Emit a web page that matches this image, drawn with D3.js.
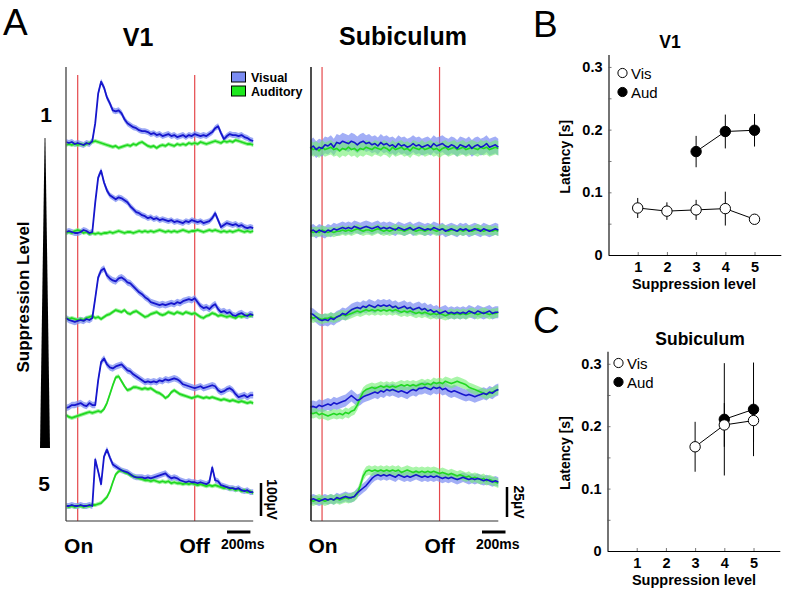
<!DOCTYPE html>
<html><head><meta charset="utf-8">
<script src="https://cdn.jsdelivr.net/npm/d3@7"></script>
<style>
body{margin:0;background:#fff}
svg{display:block}
text{font-family:"Liberation Sans",Arial,Helvetica,sans-serif}
</style>
</head><body>
<svg id="c" width="787" height="592"></svg>
<script>
// ---------- DATA ----------
// Traces sampled every DT seconds starting at T0 (stimulus On = 0 s, Off = 1 s)
const T0 = -0.1, DT = 0.025;
const suppressionLevels = [1, 2, 3, 4, 5];

// V1 LFP (µV, relative to pre-stimulus baseline), one array per suppression level
const v1Visual = [
  [3,0,3,-3,0,-3,-6,0,-3,6,60,150,186, 168,138,120,99,96,99,90,72,60,54,48,45,39, 36,36,33,27,30,24,27,21,24,27,21,24,18, 21,24,18,24,21,27,24,21,24,21,27,33,45, 51,30,12,21,27,24,24,21,24,18,15,9,6],
  [0,3,0,-3,-3,0,6,3,-3,0,90,165,186, 150,126,111,105,99,105,102,96,90,78,69,60,57, 51,48,42,45,39,42,36,39,36,33,36,30,33, 30,27,33,30,36,33,30,33,27,30,33,42,57, 36,15,21,27,24,21,24,18,21,15,12,15,12],
  [0,-6,-9,-12,-9,-6,-9,-3,-6,0,60,123,144, 150,129,120,114,111,120,123,117,108,105,96,87,78, 72,63,57,48,45,42,39,42,39,42,45,42,48, 45,51,54,57,54,60,48,36,30,33,27,36,42, 27,18,21,15,18,9,6,12,15,9,6,12,9],
  [6,9,15,15,18,21,15,12,21,15,15,90,145, 156,138,129,126,132,135,138,129,120,117,108,102,96, 90,84,87,84,87,84,90,87,93,90,93,96,93, 87,78,75,72,69,66,69,72,66,69,72,75,72, 60,54,57,63,66,60,48,39,42,45,39,45,45],
  [0,0,3,0,0,3,0,0,3,0,141,105,66, 150,171,147,126,120,114,108,105,102,96,90,87,87, 87,84,87,84,87,90,93,96,99,90,84,87,84, 78,75,72,75,72,72,69,72,69,66,72,117,78, 75,63,60,57,54,54,51,54,48,45,48,42,42]
];
const v1Auditory = [
  [-6,-3,-6,-3,-6,-3,-6,-3,0,3,6,3,0, -3,-6,-9,-12,-9,-15,-12,-9,-6,-9,-3,-6,0, 3,-3,-9,-12,-9,-15,-9,-6,-9,-3,-6,-9,-3, -6,-3,-6,0,-3,0,-3,3,0,-3,0,3,6, 3,0,6,3,6,3,9,6,3,0,-3,-3,-6],
  [-3,0,-3,3,6,3,-3,0,-6,-3,-6,-3,-6, -3,-3,0,-3,0,3,0,-3,0,0,-3,0,3, 0,3,0,3,0,3,6,3,0,3,0,3,0, 3,6,3,0,3,3,6,3,0,3,6,3,6, 3,0,3,0,3,0,3,6,3,0,3,0,3],
  [0,-3,0,-3,-6,-3,-6,0,3,6,0,3,-3, 3,9,12,18,24,21,18,24,15,12,18,21,15, 9,3,6,12,15,18,12,9,12,18,15,12,18, 15,12,18,15,12,15,9,3,0,6,9,15,12, 6,9,6,3,6,3,0,6,3,6,9,6,9],
  [-15,-21,-24,-21,-18,-15,-12,-9,-6,-9,-6,-3,-6, 3,21,48,75,99,102,87,72,60,63,69,69,66, 63,66,63,66,60,54,51,45,36,42,54,60,54, 48,45,42,39,36,39,42,39,36,39,36,39,36, 33,30,33,30,27,30,27,24,27,24,21,24,21],
  [0,-3,0,-3,0,0,-3,0,0,3,3,6,9, 18,27,45,72,96,105,108,102,99,93,90,87,84, 81,78,78,75,78,75,72,75,72,75,69,72,69, 69,66,69,66,69,66,63,66,63,60,63,60,63, 60,57,54,57,51,54,48,51,45,48,42,45,39]
];
const v1VisualSem = [9, 9, 10, 10, 9];
const v1AuditorySem = [6, 6, 6, 6, 6];

// Subiculum LFP (µV)
const subVisual = [
  [-2,0,-3,-1,-2,1,0,2,-1,3,2,4,3, 2,4,3,1,3,4,2,3,1,2,0,3,1, 2,0,1,-1,2,0,1,-1,0,2,0,1,-1, 0,1,-1,2,0,1,2,0,-1,1,0,-2,1, 0,-1,1,-2,0,1,-1,0,2,-1,0,1,-1],
  [-1,0,-2,0,-1,-2,0,-1,1,0,1,2,1, 2,1,3,2,1,2,3,2,1,2,3,1,2, 1,2,1,0,2,1,0,1,2,0,1,2,1, 0,1,0,2,1,0,1,-1,0,1,0,-1,1, 0,1,-1,0,1,0,-1,1,0,-1,0,1,0],
  [3,2,0,-2,-3,-2,-3,-1,-2,0,1,3,2, 4,6,7,8,7,9,8,10,9,8,10,9,10, 9,10,8,9,7,8,9,7,8,6,7,8,6, 7,5,6,4,5,3,4,5,3,4,3,4,3, 4,3,5,4,3,5,4,3,4,5,3,4,4],
  [2.5,3,2,4,3,4,5,4,6,5,6,7,8, 10,12,10,8,9,11,12,13,14,15,14,16,15, 17,16,17,16,15,16,15,14,16,17,16,18,18, 19,18,17,19,18,19,17,18,16,15,16,15,14, 13,12,13,12,11,12,13,14,13,15,14,16,17],
  [0,1,0,-1,0,1,0,1,0,2,1,2,3, 2,2,3,6,8,10,12,15,18,20,21,20,21, 20,21,20,19,21,20,19,20,19,20,21,20,19, 20,19,20,19,20,19,18,19,18,19,18,17,18, 19,18,17,18,17,18,17,16,17,16,15,16,15]
];
const subAuditory = [
  [-1,-3,-2,-4,-1,-3,-2,-1,-3,-2,-4,-2,-3, -1,-3,-2,-4,-2,-3,-1,-2,-3,-1,-2,-3,-1, -2,-4,-1,-3,-2,-1,-3,-2,-4,-1,-2,-3,-1, -3,-2,-1,-3,-2,-4,-2,-1,-3,-2,-1,-3,-2, -1,-3,-2,-1,-2,-3,-1,-2,-1,-3,-2,-1,-2],
  [-1,-2,-1,-2,0,-1,-2,-1,-2,-1,-1,0,-1, 0,-1,0,1,0,-1,0,0,-1,0,1,0,-1, 0,-1,0,1,0,0,-1,0,1,0,-1,0,0, -1,0,1,0,-1,0,1,0,-1,0,0,-1,0, -1,0,0,-1,0,1,0,-1,0,0,-1,0,-1],
  [0,-1,0,-1,-2,-1,-1,0,-1,0,1,2,1, 2,3,4,5,4,5,6,5,6,5,6,5,6, 5,6,5,6,5,4,5,4,5,4,3,4,3, 4,3,2,3,2,3,2,1,2,3,2,3,2, 3,2,3,4,3,2,3,4,3,2,3,3,4],
  [-2.5,-3,-2,-4,-3,-4,-5,-4,-3,-4,-3,-4,-2, -3,-1,0,4,10,15,17,18,19,18,19,20,19, 20,19,20,19,20,21,20,21,20,21,20,21,22, 21,22,21,23,22,23,22,24,23,22,23,24,23, 22,21,19,18,17,16,15,14,13,14,15,16,17],
  [0,-1,0,1,0,-1,0,1,0,1,0,1,2, 1,2,3,5,12,20,24,25,24,25,24,25,24, 25,24,25,24,25,23,24,25,24,23,24,23,24, 23,24,23,24,23,22,23,22,21,22,21,20,21, 20,19,20,18,19,18,17,18,16,17,16,15,14]
];
const subVisualSem = [7, 5, 5, 5, 4];
const subAuditorySem = [6, 4, 4, 4, 4];

// Latency panels (s), null = no response
const latencyTicks = [0, 0.05, 0.1, 0.15, 0.2, 0.25, 0.3];
const latencyTickLabels = ["0", "", "0.1", "", "0.2", "", "0.3"];
const v1LatVis = [0.075, 0.070, 0.072, 0.074, 0.057];
const v1LatVisErr = [0.016, 0.014, 0.016, 0.027, 0.004];
const v1LatAud = [null, null, 0.165, 0.197, 0.199];
const v1LatAudErr = [null, null, 0.025, 0.027, 0.026];
const subLatVis = [null, null, 0.167, 0.202, 0.209];
const subLatVisErr = [null, null, 0.040, 0.035, 0.034];
const subLatAud = [null, null, null, 0.211, 0.227];
const subLatAudErr = [null, null, null, 0.090, 0.075];

// ---------- DRAWING ----------
const svg = d3.select("#c");
svg.append("rect").attr("width", 787).attr("height", 592).attr("fill", "#fff");

function text(x, y, s, o = {}) {
  const t = svg.append("text").attr("x", x).attr("y", y).text(s)
    .attr("font-size", o.size || 14)
    .attr("font-weight", o.weight || "bold")
    .attr("text-anchor", o.anchor || "start")
    .attr("fill", "#000");
  if (o.rotate != null) t.attr("transform", `rotate(${o.rotate},${x},${y})`);
  if (o.baseline) t.attr("dominant-baseline", o.baseline);
  return t;
}

const COL = {
  visLine: "#1616cc", visBand: "#7b8cf2",
  audLine: "#22d822", audBand: "#70ee70",
  red: "#e5484b"
};

function drawTraces(cfg) {
  const x = d3.scaleLinear().domain([-0.1, 1.5]).range(cfg.xr);
  const g = svg.append("g");
  [0, 1].forEach(t => g.append("line")
    .attr("x1", x(t)).attr("x2", x(t))
    .attr("y1", cfg.redTop).attr("y2", cfg.axisBottom)
    .attr("stroke", COL.red).attr("stroke-width", 1.2));
  cfg.bases.forEach((b, r) => {
    const y = d3.scaleLinear().domain([0, cfg.barVal]).range([b, b - cfg.barPx]);
    const series = [
      { d: cfg.vis[r], sem: cfg.visSem[r], band: COL.visBand, line: COL.visLine, op: cfg.visOp },
      { d: cfg.aud[r], sem: cfg.audSem[r], band: COL.audBand, line: COL.audLine, op: cfg.audOp }
    ];
    series.forEach(s => {
      const area = d3.area()
        .x((d, i) => x(T0 + i * DT))
        .y0(d => y(d - s.sem)).y1(d => y(d + s.sem));
      g.append("path").datum(s.d).attr("d", area)
        .attr("fill", s.band).attr("fill-opacity", s.op);
    });
    [series[1], series[0]].forEach(s => {
      const line = d3.line().x((d, i) => x(T0 + i * DT)).y(d => y(d));
      g.append("path").datum(s.d).attr("d", line)
        .attr("fill", "none").attr("stroke", s.line)
        .attr("stroke-width", cfg.lw).attr("stroke-linejoin", "round");
    });
  });
  g.append("line").attr("x1", cfg.axisX).attr("x2", cfg.axisX)
    .attr("y1", cfg.axisTop).attr("y2", cfg.axisBottom)
    .attr("stroke", cfg.axisColor).attr("stroke-width", 1.6);
  g.append("line").attr("x1", cfg.axisX).attr("x2", x(1.5))
    .attr("y1", cfg.axisBottom).attr("y2", cfg.axisBottom)
    .attr("stroke", "#333").attr("stroke-width", 1.2);
  const ys = d3.scaleLinear().domain([0, cfg.barVal]).range([0, cfg.barPx]);
  g.append("line").attr("x1", cfg.vBarX).attr("x2", cfg.vBarX)
    .attr("y1", cfg.vBarBottom).attr("y2", cfg.vBarBottom - ys(cfg.barVal))
    .attr("stroke", "#000").attr("stroke-width", 2.5);
  text(cfg.vBarLabelX, cfg.vBarBottom - ys(cfg.barVal) / 2, cfg.barLabel,
    { size: 14, anchor: "middle", rotate: 90, baseline: "central" });
  g.append("line").attr("x1", cfg.tBarX).attr("x2", cfg.tBarX + (x(0.2) - x(0)))
    .attr("y1", 532).attr("y2", 532).attr("stroke", "#000").attr("stroke-width", 3);
  text(cfg.tBarX + (x(0.2) - x(0)) / 2 + 4, 549, "200ms", { size: 14, anchor: "middle" });
  text(x(0) + 1, 553, "On", { size: 21, anchor: "middle" });
  text(x(1), 553, "Off", { size: 21, anchor: "middle" });
}

drawTraces({
  xr: [66, 253.2], bases: [143, 232, 318, 410, 506],
  vis: v1Visual, aud: v1Auditory, visSem: v1VisualSem, audSem: v1AuditorySem,
  barVal: 100, barPx: 33, barLabel: "100µV", lw: 1.8,
  visOp: 0.75, audOp: 0.7,
  redTop: 75, axisTop: 67, axisBottom: 521, axisX: 66, axisColor: "#666",
  vBarX: 261, vBarBottom: 516, vBarLabelX: 272, tBarX: 227
});
drawTraces({
  xr: [310.3, 498.3], bases: [146, 230, 317, 410, 500],
  vis: subVisual, aud: subAuditory, visSem: subVisualSem, audSem: subAuditorySem,
  barVal: 25, barPx: 30, barLabel: "25µV", lw: 1.6,
  visOp: 0.7, audOp: 0.6,
  redTop: 67, axisTop: 67, axisBottom: 521, axisX: 311, axisColor: "#222",
  vBarX: 507, vBarBottom: 517, vBarLabelX: 519, tBarX: 482
});

text(3, 35, "A", { size: 37, weight: "normal" });
text(138, 46, "V1", { size: 25, anchor: "middle" });
text(403, 45, "Subiculum", { size: 25, anchor: "middle" });
[["Visual", COL.visBand, 72], ["Auditory", "#1ee81e", 86]].forEach(([lab, c, yy]) => {
  svg.append("rect").attr("x", 231.5).attr("y", yy).attr("width", 14).attr("height", 10)
    .attr("fill", c).attr("stroke", "#000").attr("stroke-width", 1);
  text(251, yy + 9.5, lab, { size: 12.5 });
});
text(46, 122, suppressionLevels[0], { size: 21, anchor: "middle" });
text(44, 491, suppressionLevels[4], { size: 21, anchor: "middle" });
svg.append("path").attr("d", "M44.6,138 L45.4,138 L50,448 L40,448 Z").attr("fill", "#000");
text(23, 297, "Suppression Level", { size: 17, anchor: "middle", rotate: -90, baseline: "central" });

function drawLatency(cfg) {
  const x = d3.scaleLinear().domain([0, 5.9]).range(cfg.xr);
  const y = d3.scaleLinear().domain([0, 0.32]).range(cfg.yr);
  const g = svg.append("g");
  const yAxis = d3.axisLeft(y).tickValues(latencyTicks).tickSize(-3).tickSizeOuter(0).tickPadding(6)
    .tickFormat((d, i) => latencyTickLabels[i]);
  const xAxis = d3.axisBottom(x).tickValues(suppressionLevels).tickSize(-3).tickSizeOuter(0).tickPadding(7)
    .tickFormat(d3.format("d"));
  const ga = g.append("g").attr("transform", `translate(${cfg.xr[0]},0)`).call(yAxis);
  const gb = g.append("g").attr("transform", `translate(0,${cfg.yr[0]})`).call(xAxis);
  [ga, gb].forEach(a => {
    a.selectAll("text").attr("font-family", '"Liberation Sans",Arial,sans-serif')
      .attr("font-size", 14.5).attr("font-weight", "bold").attr("fill", "#000");
    a.select(".domain").attr("stroke", "#000").attr("stroke-width", 1.1);
    a.selectAll(".tick line").attr("stroke", "#555").attr("stroke-width", 0.8);
  });
  const series = [
    { v: cfg.aud, e: cfg.audErr, fill: "#000" },
    { v: cfg.vis, e: cfg.visErr, fill: "#fff" }
  ];
  series.forEach(s => {
    const line = d3.line().defined(d => d != null).x((d, i) => x(suppressionLevels[i])).y(d => y(d));
    g.append("path").datum(s.v).attr("d", line).attr("fill", "none")
      .attr("stroke", "#000").attr("stroke-width", 1);
    s.v.forEach((v, i) => {
      if (v == null) return;
      g.append("line").attr("x1", x(suppressionLevels[i])).attr("x2", x(suppressionLevels[i]))
        .attr("y1", y(v - s.e[i])).attr("y2", y(v + s.e[i]))
        .attr("stroke", "#000").attr("stroke-width", 1);
    });
  });
  series.forEach(s => {
    s.v.forEach((v, i) => {
      if (v == null) return;
      g.append("circle").attr("cx", x(suppressionLevels[i])).attr("cy", y(v)).attr("r", 5.2)
        .attr("fill", s.fill).attr("stroke", "#000").attr("stroke-width", 1);
    });
  });
  g.append("circle").attr("cx", cfg.legX).attr("cy", cfg.legY).attr("r", 4.6)
    .attr("fill", "#fff").attr("stroke", "#000").attr("stroke-width", 1);
  g.append("circle").attr("cx", cfg.legX).attr("cy", cfg.legY + 19).attr("r", 4.6)
    .attr("fill", "#000").attr("stroke", "#000").attr("stroke-width", 1);
  text(cfg.legX + 8.5, cfg.legY + 5.5, "Vis", { size: 15, weight: "normal" });
  text(cfg.legX + 8.5, cfg.legY + 24.5, "Aud", { size: 15, weight: "normal" });
  text(cfg.letterX, cfg.letterY, cfg.letter, { size: 37, weight: "normal" });
  text(cfg.titleX, cfg.titleY, cfg.title, { size: 17.5, anchor: "middle" });
  text(565, (cfg.yr[0] + cfg.yr[1]) / 2 + 2, "Latency [s]", { size: 14, anchor: "middle", rotate: -90, baseline: "central" });
  text(694, cfg.yr[0] + 34, "Suppression level", { size: 14.5, anchor: "middle" });
}

drawLatency({
  xr: [608.5, 780.8], yr: [255, 54.4],
  vis: v1LatVis, visErr: v1LatVisErr, aud: v1LatAud, audErr: v1LatAudErr,
  legX: 622.5, legY: 73, letter: "B", letterX: 533, letterY: 37,
  title: "V1", titleX: 670, titleY: 48
});
drawLatency({
  xr: [607.5, 779.8], yr: [551, 351.3],
  vis: subLatVis, visErr: subLatVisErr, aud: subLatAud, audErr: subLatAudErr,
  legX: 618.5, legY: 363, letter: "C", letterX: 533, letterY: 333,
  title: "Subiculum", titleX: 700, titleY: 345
});
</script>
</body></html>
